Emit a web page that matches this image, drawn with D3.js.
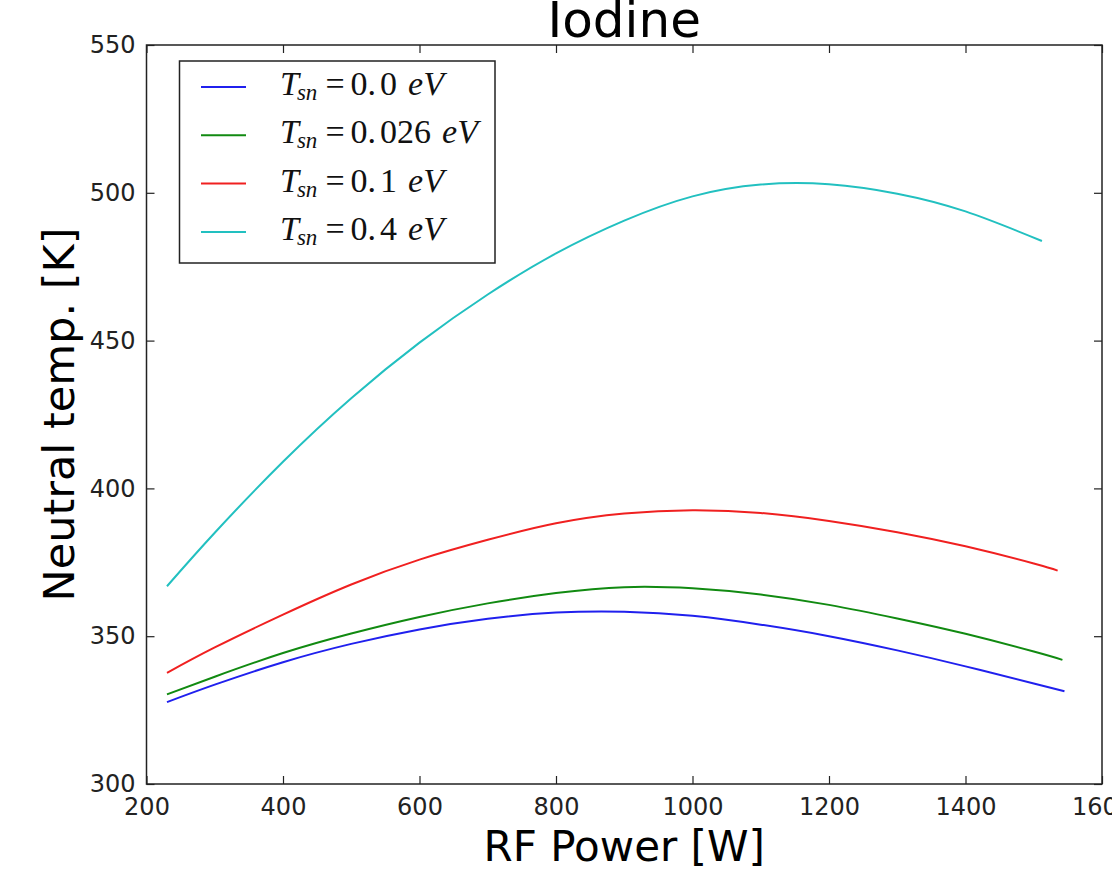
<!DOCTYPE html>
<html>
<head>
<title>Iodine</title>
<script src="https://d3js.org/d3.v7.min.js"></script>
<style>
body { margin: 0; background: #fff; }
svg { display: block; }
</style>
</head>
<body>
<div id="chart"></div>
<script>
// readings from the figure (RF power in W, neutral temperature in K)
var powerBlue  = [230, 300, 400, 500, 600, 700, 800, 900, 1000, 1100, 1200, 1300, 1400, 1500, 1545];
var tempBlue   = [327.7, 333.6, 341.2, 347.4, 352.3, 355.9, 358.0, 358.3, 356.9, 353.9, 350.0, 345.2, 339.8, 334.0, 331.4];
var powerGreen = [230, 300, 400, 500, 600, 700, 800, 900, 1000, 1100, 1200, 1300, 1400, 1500, 1542];
var tempGreen  = [330.3, 336.3, 344.3, 350.9, 356.5, 361.1, 364.6, 366.6, 366.2, 364.1, 360.6, 356.0, 350.8, 344.8, 342.0];
var powerRed   = [230, 300, 400, 500, 600, 700, 800, 900, 1000, 1100, 1200, 1300, 1400, 1500, 1535];
var tempRed    = [337.6, 346.2, 357.3, 367.5, 375.9, 382.6, 388.2, 391.5, 392.6, 391.7, 389.0, 385.2, 380.4, 374.6, 372.2];
var powerCyan  = [230, 300, 400, 500, 600, 700, 800, 900, 1000, 1100, 1200, 1300, 1400, 1512];
var tempCyan   = [366.9, 385.0, 409.0, 430.5, 449.3, 465.6, 479.5, 490.6, 498.8, 502.8, 502.9, 499.7, 493.7, 483.7];

var labels = ["0.0", "0.026", "0.1", "0.4"];
var colors = ["#2020ee", "#118a11", "#f02020", "#22c0c0"];
var xTicks = [200, 400, 600, 800, 1000, 1200, 1400, 1600];
var yTicks = [300, 350, 400, 450, 500, 550];

var series = [
  { p: powerBlue, t: tempBlue },
  { p: powerGreen, t: tempGreen },
  { p: powerRed, t: tempRed },
  { p: powerCyan, t: tempCyan }
];

var W = 1112, H = 873;
var pLeft = 146.5, pRight = 1102, pTop = 45, pBottom = 784;

var svg = d3.select("#chart").append("svg")
  .attr("width", W).attr("height", H);

var x = d3.scaleLinear().domain([200, 1600]).range([pLeft, pRight]);
var y = d3.scaleLinear().domain([300, 550]).range([pBottom, pTop]);

var line = d3.line()
  .x(function(d) { return x(d[0]); })
  .y(function(d) { return y(d[1]); })
  .curve(d3.curveNatural);

series.forEach(function(s, i) {
  var pts = s.p.map(function(v, j) { return [v, s.t[j]]; });
  svg.append("path")
    .attr("d", line(pts))
    .attr("fill", "none")
    .attr("stroke", colors[i])
    .attr("stroke-width", 2);
});

function styleAxis(g) {
  g.select(".domain").remove();
  g.selectAll(".tick line").attr("stroke", "#222").attr("stroke-width", 1.2);
  g.selectAll(".tick text")
    .attr("fill", "#222")
    .style("font-family", "'DejaVu Sans', sans-serif")
    .style("font-size", "24px");
}

var fmt = d3.format("d");

svg.append("g").attr("transform", "translate(0," + pBottom + ")")
  .call(d3.axisBottom(x).tickValues(xTicks).tickFormat(fmt).tickSizeInner(-8).tickSizeOuter(0).tickPadding(14))
  .call(styleAxis);
svg.append("g").attr("transform", "translate(0," + pTop + ")")
  .call(d3.axisTop(x).tickValues(xTicks).tickSizeInner(-8).tickSizeOuter(0).tickFormat(""))
  .call(styleAxis);
svg.append("g").attr("transform", "translate(" + pLeft + ",0)")
  .call(d3.axisLeft(y).tickValues(yTicks).tickFormat(fmt).tickSizeInner(-8).tickSizeOuter(0).tickPadding(11))
  .call(styleAxis);
svg.append("g").attr("transform", "translate(" + pRight + ",0)")
  .call(d3.axisRight(y).tickValues(yTicks).tickSizeInner(-8).tickSizeOuter(0).tickFormat(""))
  .call(styleAxis);

svg.append("rect")
  .attr("x", pLeft).attr("y", pTop)
  .attr("width", pRight - pLeft).attr("height", pBottom - pTop)
  .attr("fill", "none").attr("stroke", "#222").attr("stroke-width", 1.5);

// title and axis labels
svg.append("text")
  .attr("x", (pLeft + pRight) / 2).attr("y", 37)
  .attr("text-anchor", "middle")
  .style("font-family", "'DejaVu Sans', sans-serif")
  .style("font-size", "50px")
  .text("Iodine");

svg.append("text")
  .attr("x", (pLeft + pRight) / 2).attr("y", 861)
  .attr("text-anchor", "middle")
  .style("font-family", "'DejaVu Sans', sans-serif")
  .style("font-size", "42px")
  .text("RF Power [W]");

svg.append("text")
  .attr("transform", "translate(74," + (pTop + pBottom) / 2 + ") rotate(-90)")
  .attr("text-anchor", "middle")
  .style("font-family", "'DejaVu Sans', sans-serif")
  .style("font-size", "43px")
  .text("Neutral temp. [K]");

// legend
var lg = svg.append("g");
lg.append("rect")
  .attr("x", 179.5).attr("y", 61)
  .attr("width", 315.5).attr("height", 202)
  .attr("fill", "#fff").attr("stroke", "#222").attr("stroke-width", 1.5);

labels.forEach(function(lab, i) {
  var cy = 87 + i * 48.3;
  lg.append("line")
    .attr("x1", 201).attr("x2", 246)
    .attr("y1", cy).attr("y2", cy)
    .attr("stroke", colors[i]).attr("stroke-width", 2);
  var t = lg.append("text")
    .attr("x", 280).attr("y", cy + 8)
    .style("font-family", "'Liberation Serif', 'DejaVu Serif', serif")
    .style("font-size", "34px")
    .attr("fill", "#111");
  t.append("tspan").style("font-style", "italic").text("T");
  t.append("tspan").style("font-style", "italic").style("font-size", "23px")
    .attr("dy", 5).attr("dx", -2).text("sn");
  t.append("tspan").attr("dy", -5).attr("dx", 8).text("=");
  var parts = lab.split(".");
  t.append("tspan").attr("dx", 6).text(parts[0] + ".");
  t.append("tspan").attr("dx", 4).text(parts[1]);
  t.append("tspan").style("font-style", "italic").attr("dx", 11).text("eV");
});
</script>
</body>
</html>
